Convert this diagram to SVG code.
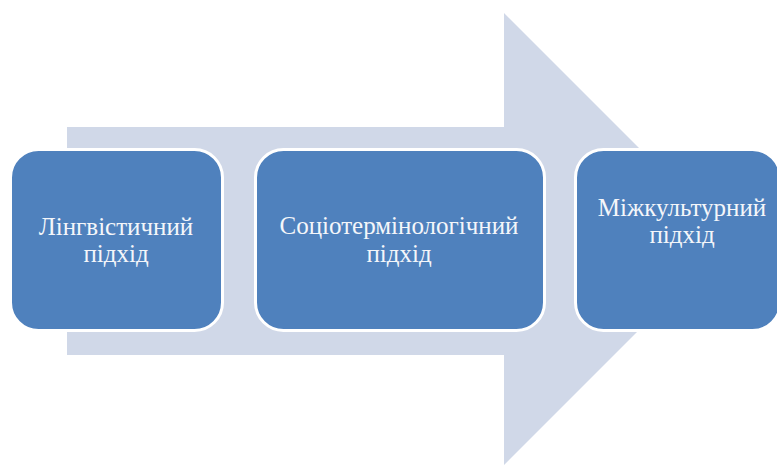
<svg xmlns="http://www.w3.org/2000/svg" width="777" height="465" viewBox="0 0 777 465">
<style>
.box{fill:#4F81BD;stroke:#FFFFFF;stroke-width:3}
.lbl{font-family:'Liberation Serif','Times New Roman',serif;font-size:25px;fill:#F4F6FA;text-anchor:middle}
</style>
<rect width="777" height="465" fill="#FFFFFF"/>
<g id="arrow">
<polygon points="67,127 504,127 504,13 730,239 504,465 504,355 67,355" fill="#D0D8E8"/>
</g>
<g id="connectors"></g>
<g id="node1">
<rect class="box" x="10.5" y="149.5" width="212" height="181" rx="28"/>
<text class="lbl" x="116" y="235">Лінгвістичний</text>
<text class="lbl" x="116" y="262">підхід</text>
</g>
<g id="node2">
<rect class="box" x="255.5" y="149.5" width="289" height="181" rx="28"/>
<text class="lbl" x="399" y="234">Соціотермінологічний</text>
<text class="lbl" x="399" y="262">підхід</text>
</g>
<g id="node3">
<rect class="box" x="575.5" y="149.5" width="205" height="181" rx="28"/>
<text class="lbl" x="682" y="216">Міжкультурний</text>
<text class="lbl" x="682" y="243">підхід</text>
</g>
</svg>
